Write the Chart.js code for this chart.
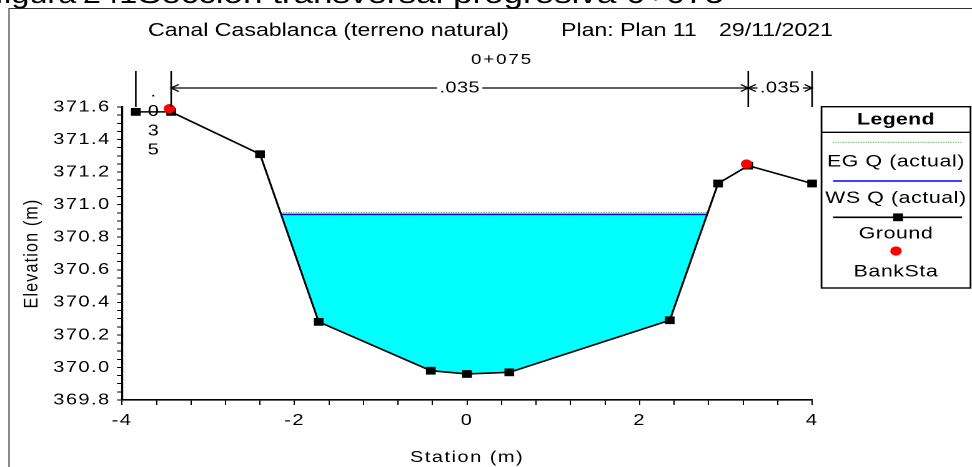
<!DOCTYPE html>
<html>
<head>
<meta charset="utf-8">
<script src="https://cdn.jsdelivr.net/npm/chart.js@4.4.1/dist/chart.umd.min.js"></script>
<style>
html, body { margin: 0; padding: 0; background: #fff; }
#page { position: relative; width: 972px; height: 467px; overflow: hidden; background: #fff; }
#frame { position: absolute; left: 8px; top: 8px; width: 990px; height: 480px; box-sizing: border-box;
         border-top: 1px solid #333; border-left: 2px solid #8c8c8c; }
#c { position: absolute; left: 0; top: 0; }
</style>
</head>
<body>
<div id="page">
  <div id="frame"></div>
  <canvas id="c" width="778" height="467" style="width:972px;height:467px"></canvas>
</div>
<script>
// ---------------- data ----------------
const captionParts = ['figura', '241', 'Sección transversal progresiva 0+075'];
const titleParts = ['Canal Casablanca (terreno natural)', 'Plan: Plan 11', '29/11/2021'];
const subTitle = '0+075';

const groundStations = [-3.84, -3.43, -2.40, -1.72, -0.42, 0.00, 0.49, 2.35, 2.91, 3.26, 4.00];
const groundElev     = [371.57, 371.57, 371.31, 370.28, 369.98, 369.96, 369.97, 370.29, 371.13, 371.24, 371.13];

const bankStations = [-3.45, 3.24];
const bankElev     = [371.59, 371.25];

const wsStations = [-2.155, 2.783];
const wsElev     = [370.94, 370.94];

const egStations = [-2.16, 2.79];
const egElev     = [370.952, 370.952];

const nBreaks = [-3.84, -3.43, 3.26, 4.00];
const nValues = ['.035', '.035', '.035'];

const xTickLabels = ['-4', '-2', '0', '2', '4'];
const yTickLabels = ['369.8', '370.0', '370.2', '370.4', '370.6', '370.8', '371.0', '371.2', '371.4', '371.6'];
const xRange = [-4, 4];
const yRange = [369.8, 371.6];
const xMinorStep = 0.4;
const yMinorStep = 0.05;

const legendLabels = ['EG Q (actual)', 'WS Q (actual)', 'Ground', 'BankSta'];

// ---------------- layout helpers ----------------
const SX = 972 / 778;            // horizontal stretch of the picture
const rx = v => v / SX;          // reference px -> canvas px (x only)
const FONT = '"Liberation Sans", Arial, Helvetica, sans-serif';

Chart.defaults.font.family = FONT;
Chart.defaults.color = '#000';

const pts = (xs, ys) => xs.map((x, i) => ({ x: x, y: ys[i] }));
const pickLabel = (list, v) => {
  const l = list.find(t => Math.abs(Number(t) - v) < 1e-6);
  return l === undefined ? '' : l;
};

function seg(ctx, x1, y1, x2, y2) {
  ctx.beginPath(); ctx.moveTo(x1, y1); ctx.lineTo(x2, y2); ctx.stroke();
}

function drawHeader(chart) {
  const ctx = chart.ctx;
  ctx.save();
  ctx.fillStyle = '#000';
  ctx.textAlign = 'left';
  ctx.textBaseline = 'alphabetic';
  ctx.letterSpacing = '0px';
  // document caption (cut at top)
  ctx.font = '26px ' + FONT;
  ctx.fillText(captionParts[0], rx(-5), 3);
  ctx.fillText(captionParts[1], rx(83), 3);
  ctx.font = '28px ' + FONT;
  ctx.fillText(captionParts[2], rx(138), 3);
  // chart title
  ctx.font = '18.5px ' + FONT;
  ctx.fillText(titleParts[0], rx(148), 36);
  ctx.fillText(titleParts[1], rx(561), 36);
  ctx.fillText(titleParts[2], rx(719), 36);
  // river station
  ctx.font = '15px ' + FONT;
  ctx.letterSpacing = '1.5px';
  ctx.textAlign = 'center';
  ctx.fillText(subTitle, rx(502), 64);
  ctx.restore();
}

function drawManning(chart) {
  const ctx = chart.ctx, xs = chart.scales.x, top = chart.chartArea.top;
  const arrowY = top - 19, vTop = top - 36;
  ctx.save();
  ctx.strokeStyle = '#000';
  ctx.lineWidth = 1.3;
  const px = nBreaks.map(s => xs.getPixelForValue(s));
  px.forEach(p => seg(ctx, p, vTop, p, top));
  ctx.font = '16px ' + FONT;
  ctx.letterSpacing = '0.3px';
  ctx.fillStyle = '#000';
  ctx.textAlign = 'center';
  for (let i = 0; i < nValues.length; i++) {
    const a = px[i], b = px[i + 1], mid = (a + b) / 2, lab = nValues[i];
    const w = ctx.measureText(lab).width;
    if (w + 6 < b - a) {
      ctx.textBaseline = 'middle';
      ctx.fillText(lab, mid, arrowY);
      seg(ctx, a, arrowY, mid - w / 2 - 2, arrowY);
      seg(ctx, mid + w / 2 + 2, arrowY, b, arrowY);
      ctx.beginPath(); ctx.moveTo(a + 6, arrowY - 3.5); ctx.lineTo(a, arrowY); ctx.lineTo(a + 6, arrowY + 3.5); ctx.stroke();
      ctx.beginPath(); ctx.moveTo(b - 6, arrowY - 3.5); ctx.lineTo(b, arrowY); ctx.lineTo(b - 6, arrowY + 3.5); ctx.stroke();
    } else {
      ctx.textBaseline = 'alphabetic';
      Array.from(lab).forEach((ch, k) => ctx.fillText(ch, mid, top - 10.3 + k * 19.3));
    }
  }
  ctx.restore();
}

function drawLegend(chart) {
  const ctx = chart.ctx;
  const L = rx(821.5), R = rx(970.5), T = 106.7, B = 288, cx = (L + R) / 2;
  const x1 = rx(833), x2 = rx(962);
  const ds = name => chart.data.datasets.find(d => d.label === name);
  ctx.save();
  ctx.fillStyle = '#fff';
  ctx.fillRect(L, T, R - L, B - T);
  ctx.strokeStyle = '#000';
  ctx.lineWidth = 1.4;
  ctx.strokeRect(L, T, R - L, B - T);
  seg(ctx, L, 132.3, R, 132.3);
  ctx.fillStyle = '#000';
  ctx.textAlign = 'center';
  ctx.textBaseline = 'middle';
  ctx.font = 'bold 17px ' + FONT;
  ctx.letterSpacing = '0.3px';
  ctx.fillText('Legend', cx, 120);
  ctx.font = '17px ' + FONT;
  ctx.letterSpacing = '0.5px';

  const eg = ds(legendLabels[0]);
  ctx.strokeStyle = eg.borderColor; ctx.lineWidth = eg.borderWidth; ctx.setLineDash(eg.borderDash);
  seg(ctx, x1, 142.3, x2, 142.3);
  ctx.setLineDash([]);
  ctx.fillText(legendLabels[0], cx, 162);

  const ws = ds(legendLabels[1]);
  ctx.strokeStyle = ws.borderColor; ctx.lineWidth = ws.borderWidth;
  seg(ctx, x1, 181, x2, 181);
  ctx.fillText(legendLabels[1], cx, 198.3);

  const gr = ds(legendLabels[2]);
  ctx.strokeStyle = gr.borderColor; ctx.lineWidth = gr.borderWidth;
  seg(ctx, x1, 217.3, x2, 217.3);
  const side = gr.pointRadius * Math.SQRT1_2 * 2;
  ctx.fillStyle = gr.pointBackgroundColor;
  ctx.fillRect(rx(898) - side / 2, 217.3 - side / 2, side, side);
  ctx.fillStyle = '#000';
  ctx.fillText(legendLabels[2], cx, 234);

  const bk = ds(legendLabels[3]);
  ctx.fillStyle = bk.pointBackgroundColor;
  ctx.beginPath(); ctx.arc(cx, 251, bk.pointRadius, 0, Math.PI * 2); ctx.fill();
  ctx.fillStyle = '#000';
  ctx.fillText(legendLabels[3], cx, 271.7);
  ctx.restore();
}

const decorPlugin = {
  id: 'decor',
  beforeDraw(chart) { chart.ctx.letterSpacing = '1.2px'; },
  beforeDatasetsDraw(chart) { chart.ctx.letterSpacing = '0px'; },
  afterDraw(chart) {
    chart.ctx.letterSpacing = '0px';
    drawHeader(chart);
    drawManning(chart);
    drawLegend(chart);
  }
};

new Chart(document.getElementById('c'), {
  type: 'line',
  data: {
    datasets: [
      {
        label: 'BankSta', data: pts(bankStations, bankElev), showLine: false,
        pointStyle: 'circle', pointRadius: 4.6, pointBackgroundColor: '#ff0000',
        pointBorderColor: '#ff0000', pointBorderWidth: 0, order: 0, clip: false
      },
      {
        label: 'Ground', data: pts(groundStations, groundElev),
        borderColor: '#000', borderWidth: 1.6, pointStyle: 'rect', pointRadius: 5.5,
        pointBackgroundColor: '#000', pointBorderColor: '#000', pointBorderWidth: 0,
        fill: false, order: 1, clip: false
      },
      {
        label: 'WS Q (actual)', data: pts(wsStations, wsElev),
        borderColor: '#0000ff', borderWidth: 1.5, pointRadius: 0, order: 2,
        fill: 1, backgroundColor: '#00ffff'
      },
      {
        label: 'EG Q (actual)', data: pts(egStations, egElev),
        borderColor: '#4caf50', borderWidth: 1, borderDash: [1, 1], pointRadius: 0, order: 3,
        fill: false
      }
    ]
  },
  options: {
    responsive: false,
    devicePixelRatio: 2,
    animation: false,
    events: [],
    layout: { padding: { left: 10, right: 128, top: 107, bottom: 0 } },
    plugins: {
      legend: { display: false },
      tooltip: { enabled: false },
      title: { display: false },
      filler: { drawTime: 'beforeDatasetsDraw' }
    },
    scales: {
      x: {
        type: 'linear', min: xRange[0], max: xRange[1],
        afterFit: s => { s.height = 67; },
        grid: { drawOnChartArea: false, drawTicks: true, tickLength: 5, color: '#000', lineWidth: 1 },
        border: { display: true, color: '#000', width: 1.6 },
        ticks: {
          stepSize: xMinorStep, autoSkip: false, maxRotation: 0, padding: 6,
          font: { size: 16 }, color: '#000',
          callback: v => pickLabel(xTickLabels, v)
        },
        title: { display: true, text: 'Station (m)', font: { size: 16 }, color: '#000', padding: { top: 0, bottom: 0 } }
      },
      y: {
        type: 'linear', min: yRange[0], max: yRange[1],
        afterFit: s => { s.width = rx(122) - 10; },
        grid: { drawOnChartArea: false, drawTicks: true, tickLength: 4, color: '#000', lineWidth: 1 },
        border: { display: true, color: '#000', width: 1.6 },
        ticks: {
          stepSize: yMinorStep, autoSkip: false, padding: 5,
          font: { size: 16 }, color: '#000',
          callback: v => pickLabel(yTickLabels, v)
        },
        title: { display: true, text: 'Elevation (m)', font: { size: 16 }, color: '#000', padding: { top: 6, bottom: 0 } }
      }
    }
  },
  plugins: [decorPlugin]
});
</script>
</body>
</html>
